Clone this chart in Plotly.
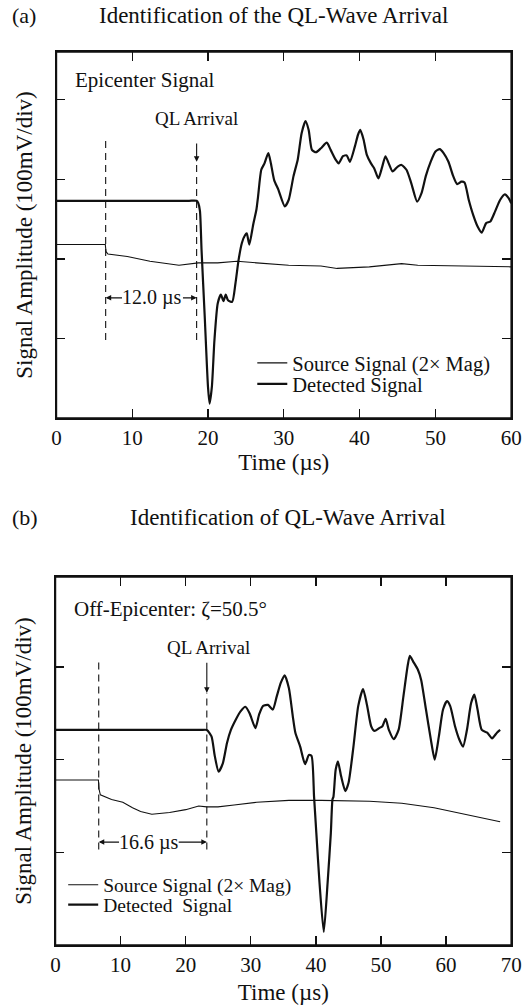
import plotly.graph_objects as go

# ---------------- Data: panel (a) epicenter ----------------
a_det_time = [0, 6.0, 12.0, 17.5, 18.5, 18.72, 18.94, 19.15, 19.57, 20.0, 20.21, 20.51, 20.85, 21.28, 21.7, 22.04,
              22.34, 22.64, 23.19, 23.62, 24.04, 24.47, 24.9, 25.11, 25.45, 25.96, 26.39, 26.6,
              27.03, 27.45, 27.96, 28.3, 28.73, 29.28, 30.13, 30.64, 31.28, 31.84, 32.35, 32.86,
              33.28, 33.71, 34.26, 34.9, 35.67, 36.18, 36.82, 37.24, 37.8, 38.3, 38.73, 39.37,
              39.79, 40.09, 40.52, 40.94, 41.5, 41.92, 42.48, 42.99, 43.41, 43.84, 44.35, 45.03,
              45.54, 46.18, 46.82, 47.59, 48.18, 48.73, 49.37, 50.01, 50.57, 51.08, 51.72, 52.35,
              52.87, 53.42, 53.84, 54.4, 54.99, 55.55, 56.1, 56.7, 57.25, 57.89, 58.53, 59.16,
              59.68, 60.0]
a_det_amp = [2.73, 2.73, 2.73, 2.73, 2.73, 2.70, 2.60, 2.11, 1.27, 0.39, 0.18, 0.39, 0.98, 1.44, 1.55, 1.47,
             1.55, 1.48, 1.46, 1.69, 1.99, 2.20, 2.30, 2.32, 2.18, 2.43, 2.62, 2.78,
             3.12, 3.20, 3.33, 3.20, 2.99, 2.87, 2.66, 2.74, 3.04, 3.25, 3.58, 3.73,
             3.62, 3.37, 3.34, 3.39, 3.46, 3.37, 3.25, 3.20, 3.29, 3.30, 3.22, 3.41,
             3.56, 3.62, 3.50, 3.31, 3.20, 3.14, 3.01, 3.16, 3.29, 3.20, 3.10, 3.16,
             3.18, 3.12, 2.95, 2.72, 2.83, 3.04, 3.22, 3.35, 3.38, 3.33, 3.22, 3.04,
             2.94, 2.97, 2.96, 2.74, 2.55, 2.41, 2.33, 2.45, 2.47, 2.60, 2.74, 2.81,
             2.76, 2.70]
a_src_time = [0, 6.45, 6.55, 6.8, 9.36, 12.34, 16.17, 18.72, 21.28, 23.83, 26.4, 30.64, 34.9,
              37.03, 41.28, 45.54, 47.67, 51.93, 60.0]
a_src_amp = [2.18, 2.18, 2.09, 2.06, 2.03, 1.97, 1.92, 1.95, 1.95, 1.97, 1.95, 1.92, 1.91,
             1.88, 1.90, 1.94, 1.92, 1.91, 1.90]
a_source_onset = 6.5
a_ql_arrival = 18.5
a_xticks = [0, 10, 20, 30, 40, 50, 60]

# ---------------- Data: panel (b) off-epicenter ----------------
b_det_time = [0, 8.0, 16.0, 22.3, 23.25, 23.97, 24.47, 25.06, 25.71, 26.35, 26.95, 27.69, 28.43, 29.17, 29.82,
              30.71, 31.30, 31.90, 32.64, 33.38, 33.98, 34.62, 35.21, 35.86, 36.45, 36.85,
              37.59, 38.34, 38.93, 39.33, 39.72, 40.07, 40.56, 41.21, 41.8, 42.3, 42.55, 42.7,
              43.04, 43.39, 43.88, 44.52, 45.02, 45.77, 46.51, 47.25, 47.85, 48.49, 48.99,
              49.73, 50.22, 50.72, 51.21, 51.96, 52.7, 53.44, 54.09, 54.43, 54.93, 55.67,
              56.17, 56.91, 57.65, 58.25, 58.89, 59.53, 60.13, 60.62, 61.37, 62.01, 62.6,
              63.2, 63.84, 64.34, 64.83, 65.48, 66.32, 67.06, 67.81, 68.3]
b_det_amp = [2.32, 2.32, 2.32, 2.32, 2.32, 2.25, 2.04, 1.87, 1.96, 2.18, 2.32, 2.43, 2.52, 2.57, 2.50,
             2.34, 2.49, 2.58, 2.59, 2.54, 2.68, 2.83, 2.91, 2.77, 2.47, 2.29,
             2.14, 1.95, 2.05, 2.04, 1.60, 1.21, 0.67, 0.14, 0.67, 1.21, 1.57, 1.60,
             1.89, 1.98, 1.82, 1.66, 1.75, 2.14, 2.58, 2.76, 2.59, 2.36, 2.31,
             2.34, 2.36, 2.44, 2.32, 2.22, 2.32, 2.68, 3.01, 3.12, 3.06, 2.97,
             2.86, 2.54, 2.22, 2.00, 2.25, 2.54, 2.63, 2.58, 2.36, 2.22, 2.14,
             2.32, 2.61, 2.70, 2.54, 2.32, 2.29, 2.23, 2.29, 2.32]
b_src_time = [0, 6.6, 6.7, 6.9, 8.62, 10.35, 11.84, 13.08, 14.81, 17.53, 20.01, 22.0, 23.23,
              24.96, 27.44, 30.9, 35.86, 40.81, 48.24, 53.2, 58.15, 63.1, 68.3]
b_src_amp = [1.78, 1.78, 1.68, 1.62, 1.57, 1.54, 1.48, 1.44, 1.41, 1.43, 1.46, 1.50, 1.49,
             1.49, 1.51, 1.54, 1.56, 1.56, 1.55, 1.53, 1.48, 1.41, 1.33]
b_source_onset = 6.65
b_ql_arrival = 23.25
b_xticks = [0, 10, 20, 30, 40, 50, 60, 70]

# ---------------- Figure ----------------
W, H = 529, 1006
FONT = "Liberation Serif, Times New Roman, Times, serif"
BLACK = "#111111"

def px_x(p):
    return p / W

def px_y(p):
    return 1 - p / H

fig = go.Figure()

# panel (a)
fig.add_trace(go.Scatter(x=a_src_time, y=a_src_amp, mode="lines", name="Source Signal (2\u00d7 Mag)",
                         line=dict(color=BLACK, width=1.1), xaxis="x", yaxis="y", legend="legend"))
fig.add_trace(go.Scatter(x=a_det_time, y=a_det_amp, mode="lines", name="Detected Signal",
                         line=dict(color=BLACK, width=2.2, shape="spline", smoothing=0.6),
                         xaxis="x", yaxis="y", legend="legend2"))
# panel (b)
fig.add_trace(go.Scatter(x=b_src_time, y=b_src_amp, mode="lines", name="Source Signal (2\u00d7 Mag)",
                         line=dict(color=BLACK, width=1.1), xaxis="x2", yaxis="y2", legend="legend3"))
fig.add_trace(go.Scatter(x=b_det_time, y=b_det_amp, mode="lines", name="Detected  Signal",
                         line=dict(color=BLACK, width=2.2, shape="spline", smoothing=0.6),
                         xaxis="x2", yaxis="y2", legend="legend4"))

axis_common = dict(showline=True, linecolor=BLACK, linewidth=1.6, mirror="ticks",
                   ticks="inside", ticklen=9, tickwidth=1.3, tickcolor=BLACK,
                   showgrid=False, zeroline=False)

fig.update_layout(
    width=W, height=H,
    margin=dict(l=0, r=0, t=0, b=0),
    paper_bgcolor="white", plot_bgcolor="white",
    font=dict(family=FONT, color=BLACK),
    hovermode=False,
    xaxis=dict(domain=[px_x(53), px_x(522)], range=[0, 60], tickvals=a_xticks,
               ticktext=[str(v) for v in a_xticks], anchor="y", ticklabeloverflow="allow",
               tickfont=dict(size=21, family=FONT),
               title=dict(text="Time (\u00b5s)", font=dict(size=23, family=FONT), standoff=4),
               **axis_common),
    yaxis=dict(domain=[px_y(418), px_y(52)], range=[0, 4.6], tickvals=[1, 2, 3, 4],
               showticklabels=False, anchor="x",
               title=dict(text="Signal Amplitude (100mV/div)", font=dict(size=23, family=FONT),
                          standoff=16),
               **axis_common),
    xaxis2=dict(domain=[px_x(52), px_x(522)], range=[0, 70], tickvals=b_xticks,
                ticktext=[str(v) for v in b_xticks], anchor="y2", ticklabeloverflow="allow",
                tickfont=dict(size=21, family=FONT),
                title=dict(text="Time (\u00b5s)", font=dict(size=23, family=FONT), standoff=8),
                **axis_common),
    yaxis2=dict(domain=[px_y(945), px_y(577)], range=[0, 3.97], tickvals=[1, 2, 3],
                showticklabels=False, anchor="x2",
                title=dict(text="Signal Amplitude (100mV/div)", font=dict(size=23, family=FONT),
                           standoff=16),
                **axis_common),
    showlegend=True,
)

legend_common = dict(bgcolor="rgba(0,0,0,0)", borderwidth=0, xanchor="left", yanchor="middle",
                     itemwidth=30, tracegroupgap=0)
fig.update_layout(
    legend=dict(x=px_x(255), y=px_y(363), font=dict(size=20.5, family=FONT), **legend_common),
    legend2=dict(x=px_x(255), y=px_y(384), font=dict(size=20.5, family=FONT), **legend_common),
    legend3=dict(x=px_x(60), y=px_y(885), font=dict(size=19.5, family=FONT), **legend_common),
    legend4=dict(x=px_x(60), y=px_y(905), font=dict(size=19.5, family=FONT), **legend_common),
)

# dashed marker lines and plot frames
dash_style = dict(color=BLACK, width=1.1, dash="7px,5px")
frame_style = dict(color=BLACK, width=1.6)
shapes = [
    dict(type="rect", xref="x domain", yref="y domain", x0=0, x1=1, y0=0, y1=1, line=frame_style),
    dict(type="rect", xref="x2 domain", yref="y2 domain", x0=0, x1=1, y0=0, y1=1, line=frame_style),
    dict(type="line", xref="x", yref="y", x0=a_source_onset, x1=a_source_onset, y0=0.98, y1=3.50, line=dash_style),
    dict(type="line", xref="x", yref="y", x0=a_ql_arrival, x1=a_ql_arrival, y0=0.98, y1=3.20, line=dash_style),
    dict(type="line", xref="x2", yref="y2", x0=b_source_onset, x1=b_source_onset, y0=1.03, y1=3.06, line=dash_style),
    dict(type="line", xref="x2", yref="y2", x0=b_ql_arrival, x1=b_ql_arrival, y0=1.03, y1=2.72, line=dash_style),
]
fig.update_layout(shapes=shapes)

ann = []
# panel titles
ann.append(dict(text="(a)", xref="paper", yref="paper", x=px_x(5), y=px_y(15), xanchor="left",
                yanchor="middle", showarrow=False, font=dict(size=22, family=FONT)))
ann.append(dict(text="Identification of the QL-Wave Arrival", xref="paper", yref="paper",
                x=px_x(277), y=px_y(15), xanchor="center", yanchor="middle", showarrow=False,
                font=dict(size=23, family=FONT)))
ann.append(dict(text="(b)", xref="paper", yref="paper", x=px_x(5), y=px_y(517), xanchor="left",
                yanchor="middle", showarrow=False, font=dict(size=22, family=FONT)))
ann.append(dict(text="Identification of QL-Wave Arrival", xref="paper", yref="paper",
                x=px_x(292), y=px_y(517), xanchor="center", yanchor="middle", showarrow=False,
                font=dict(size=23, family=FONT)))
# panel (a) labels
ann.append(dict(text="Epicenter Signal", xref="x", yref="y", x=2.2, y=4.25, xanchor="left",
                yanchor="middle", showarrow=False, font=dict(size=21, family=FONT)))
ann.append(dict(text="QL Arrival", xref="x", yref="y", x=a_ql_arrival, y=3.77, xanchor="center",
                yanchor="middle", showarrow=False, font=dict(size=19, family=FONT)))
ann.append(dict(text="", xref="x", yref="y", x=a_ql_arrival, y=3.22, axref="x", ayref="y",
                ax=a_ql_arrival, ay=3.47, showarrow=True, arrowhead=2, arrowsize=1, arrowwidth=1.1,
                arrowcolor=BLACK))
ann.append(dict(text="12.0 \u00b5s", xref="x", yref="y", x=12.66, y=1.51, xanchor="center",
                yanchor="middle", showarrow=False, font=dict(size=20, family=FONT)))
ann.append(dict(text="", xref="x", yref="y", x=a_source_onset, y=1.51, axref="x", ayref="y",
                ax=8.85, ay=1.51, showarrow=True, arrowhead=2, arrowsize=1, arrowwidth=1.1,
                arrowcolor=BLACK))
ann.append(dict(text="", xref="x", yref="y", x=a_ql_arrival, y=1.51, axref="x", ayref="y",
                ax=16.5, ay=1.51, showarrow=True, arrowhead=2, arrowsize=1, arrowwidth=1.1,
                arrowcolor=BLACK))
# panel (b) labels
ann.append(dict(text="Off-Epicenter: \u03b6=50.5\u00b0", xref="x2", yref="y2", x=2.5, y=3.62,
                xanchor="left", yanchor="middle", showarrow=False, font=dict(size=21, family=FONT)))
ann.append(dict(text="QL Arrival", xref="x2", yref="y2", x=b_ql_arrival + 0.3, y=3.21,
                xanchor="center", yanchor="middle", showarrow=False, font=dict(size=19, family=FONT)))
ann.append(dict(text="", xref="x2", yref="y2", x=b_ql_arrival, y=2.72, axref="x2", ayref="y2",
                ax=b_ql_arrival, ay=3.06, showarrow=True, arrowhead=2, arrowsize=1, arrowwidth=1.1,
                arrowcolor=BLACK))
ann.append(dict(text="16.6 \u00b5s", xref="x2", yref="y2", x=14.3, y=1.11, xanchor="center",
                yanchor="middle", showarrow=False, font=dict(size=20, family=FONT)))
ann.append(dict(text="", xref="x2", yref="y2", x=b_source_onset, y=1.11, axref="x2", ayref="y2",
                ax=10.0, ay=1.11, showarrow=True, arrowhead=2, arrowsize=1, arrowwidth=1.1,
                arrowcolor=BLACK))
ann.append(dict(text="", xref="x2", yref="y2", x=b_ql_arrival, y=1.11, axref="x2", ayref="y2",
                ax=18.7, ay=1.11, showarrow=True, arrowhead=2, arrowsize=1, arrowwidth=1.1,
                arrowcolor=BLACK))
fig.update_layout(annotations=ann)

# remove the browser's default page margin so the figure sits at the window origin
fig.write_html("out.html",
               config={"displayModeBar": False, "staticPlot": True},
               post_script="document.body.style.margin='0px';document.body.style.padding='0px';")
